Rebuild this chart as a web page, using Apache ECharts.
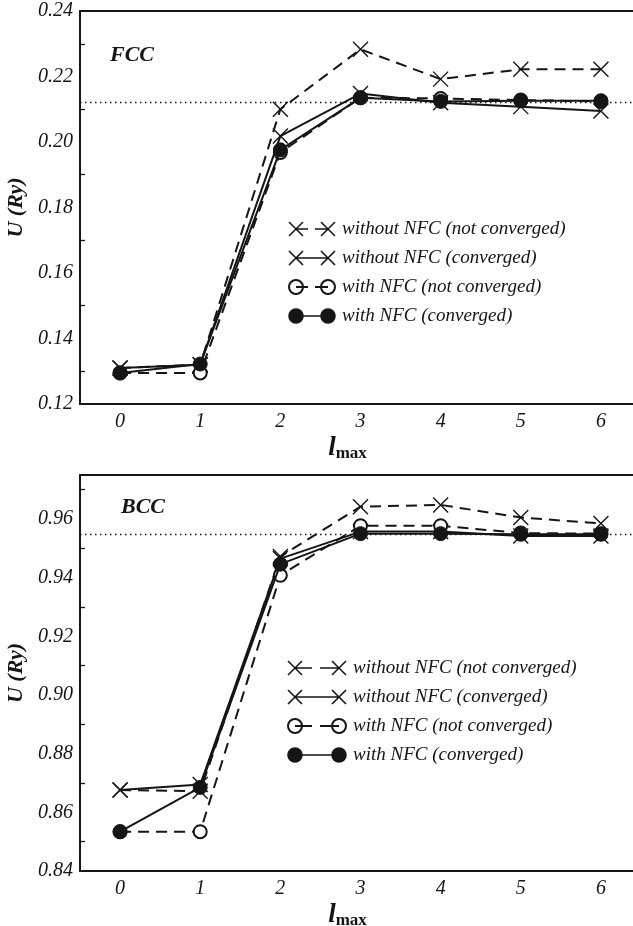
<!DOCTYPE html>
<html>
<head>
<meta charset="utf-8">
<script src="https://cdn.jsdelivr.net/npm/echarts@6/dist/echarts.min.js"></script>
<style>
html,body{margin:0;padding:0;background:#fff;}
#c{width:633px;height:926px;}
</style>
</head>
<body>
<div id="c"></div>
<script>
// ---------- data ----------
const lmaxCats = ['0', '1', '2', '3', '4', '5', '6'];
const seriesNames = [
  'without NFC (not converged)',
  'without NFC (converged)',
  'with NFC (not converged)',
  'with NFC (converged)'
];
// FCC panel
const fccNoNfcNotConv = [0.131, 0.132, 0.210, 0.2283, 0.2192, 0.2222, 0.2222];
const fccNoNfcConv    = [0.131, 0.132, 0.2018, 0.2148, 0.2120, 0.2108, 0.2095];
const fccNfcNotConv   = [0.1295, 0.1295, 0.1968, 0.2135, 0.2133, 0.2128, 0.2124];
const fccNfcConv      = [0.1295, 0.1322, 0.1976, 0.2135, 0.2124, 0.2126, 0.2126];
const fccReference = 0.2122;
const fccTicks = [0.12, 0.24, 0.02];
// BCC panel
const bccNoNfcNotConv = [0.8676, 0.8672, 0.9472, 0.9642, 0.9648, 0.9605, 0.9585];
const bccNoNfcConv    = [0.8676, 0.8695, 0.9465, 0.9557, 0.9557, 0.9542, 0.9542];
const bccNfcNotConv   = [0.8534, 0.8534, 0.9408, 0.9577, 0.9577, 0.9552, 0.9550];
const bccNfcConv      = [0.8534, 0.8685, 0.9446, 0.9550, 0.9550, 0.9548, 0.9548];
const bccReference = 0.9548;
const bccTicks = [0.84, 0.975, 0.02];

// ---------- styles ----------
const INK = '#151515';
const SERIF = 'Liberation Serif';
const X_PATH = 'path://M0,0L10,10M10,0L0,10';

const chart = echarts.init(document.getElementById('c'), null, {renderer: 'canvas'});

function xAxes(grid, nameGapV) {
  const base = {gridIndex: grid, type: 'category', data: lmaxCats, boundaryGap: true};
  const major = {inside: true, alignWithLabel: true, length: 10, interval: 0, lineStyle: {color: INK, width: 1.3}};
  const minor = {inside: true, alignWithLabel: false, length: 5, interval: 0, lineStyle: {color: INK, width: 1.3}};
  return [
    Object.assign({}, base, {
      position: 'bottom',
      axisLine: {show: true, lineStyle: {color: INK, width: 2}},
      axisTick: major,
      axisLabel: {show: true, interval: 0, margin: 8, color: INK, fontFamily: SERIF, fontStyle: 'italic', fontSize: 20},
      name: '{l|l}{s|max}',
      nameLocation: 'middle',
      nameGap: nameGapV,
      nameTextStyle: {
        padding: [0, 26, 0, 0],
        rich: {
          l: {fontFamily: SERIF, fontStyle: 'italic', fontWeight: 'bold', fontSize: 27, color: INK, verticalAlign: 'bottom', lineHeight: 26},
          s: {fontFamily: SERIF, fontWeight: 'bold', fontSize: 17, color: INK, verticalAlign: 'bottom', lineHeight: 20}
        }
      },
      splitLine: {show: false}
    }),
    Object.assign({}, base, {position: 'bottom', axisLine: {show: false}, axisTick: minor, axisLabel: {show: false}, splitLine: {show: false}}),
    Object.assign({}, base, {position: 'top', axisLine: {show: true, lineStyle: {color: INK, width: 2}}, axisTick: major, axisLabel: {show: false}, splitLine: {show: false}}),
    Object.assign({}, base, {position: 'top', axisLine: {show: false}, axisTick: minor, axisLabel: {show: false}, splitLine: {show: false}})
  ];
}

function yAxes(grid, ticks) {
  const base = {
    gridIndex: grid, type: 'value', min: ticks[0], max: ticks[1], interval: ticks[2],
    axisLine: {show: true, lineStyle: {color: INK, width: 2}},
    axisTick: {inside: true, length: 10, lineStyle: {color: INK, width: 1.3}},
    minorTick: {show: true, splitNumber: 2, length: 5, lineStyle: {color: INK, width: 1.3}},
    splitLine: {show: false}, minorSplitLine: {show: false}
  };
  return [
    Object.assign({}, base, {
      position: 'left',
      axisLabel: {
        show: true, margin: 7, color: INK, fontFamily: SERIF, fontStyle: 'italic', fontSize: 20,
        formatter: v => {
          const k = (v - ticks[0]) / ticks[2];
          return Math.abs(k - Math.round(k)) > 1e-6 ? '' : v.toFixed(2);
        }
      },
      name: 'U (Ry)',
      nameLocation: 'middle',
      nameRotate: 90,
      nameGap: 52,
      nameTextStyle: {fontFamily: SERIF, fontStyle: 'italic', fontWeight: 'bold', fontSize: 22, color: INK}
    }),
    Object.assign({}, base, {position: 'right', axisLabel: {show: false}})
  ];
}

function makeSeries(grid, data, kind, refValue) {
  const dashed = (kind === 0 || kind === 2);
  const s = {
    type: 'line',
    name: seriesNames[kind],
    xAxisIndex: grid * 4,
    yAxisIndex: grid * 2,
    data: data,
    symbolKeepAspect: true,
    showAllSymbol: true,
    lineStyle: {color: INK, width: 2, type: dashed ? [11, 7] : 'solid'},
    emphasis: {disabled: true},
    z: 2 + kind
  };
  if (kind === 0 || kind === 1) {
    s.symbol = X_PATH;
    s.symbolSize = 15;
    s.itemStyle = {color: INK, borderColor: INK, borderWidth: 1.4};
  } else if (kind === 2) {
    s.symbol = 'circle';
    s.symbolSize = 13;
    s.itemStyle = {color: '#fff', borderColor: INK, borderWidth: 2};
  } else {
    s.symbol = 'circle';
    s.symbolSize = 14;
    s.itemStyle = {color: INK, borderColor: INK, borderWidth: 1};
  }
  if (refValue !== undefined) {
    s.markLine = {
      silent: true, symbol: ['none', 'none'], label: {show: false}, animation: false,
      precision: 6,
      lineStyle: {color: INK, width: 1.3, type: [1.5, 3.5]},
      data: [{yAxis: refValue}]
    };
  }
  return s;
}

// legend icons (symbol / line / symbol)
function legendIcons(w) {
  const r = 7, c1 = 7, c2 = w - 7;
  const x1 = `M0,1L14,15M14,1L0,15`;
  const x2 = `M${w - 14},1L${w},15M${w},1L${w - 14},15`;
  const circ = c => `M${c - r},8A${r},${r} 0 1,1 ${c + r},8A${r},${r} 0 1,1 ${c - r},8Z`;
  const gapA = Math.round(w * 0.42), gapB = Math.round(w * 0.56);
  const dash = `M${c1},8L${gapA},8M${gapB},8L${c2},8`;
  const solid = `M${c1},8L${c2},8`;
  return [
    'path://' + x1 + x2 + dash,
    'path://' + x1 + x2 + solid,
    'path://' + dash + circ(c1) + circ(c2),
    'path://' + solid + circ(c1) + circ(c2)
  ];
}

function legend(topPx, leftPx, w) {
  const icons = legendIcons(w);
  const styles = [
    {color: INK, borderColor: INK, borderWidth: 1.5},
    {color: INK, borderColor: INK, borderWidth: 1.6},
    {color: '#fff', borderColor: INK, borderWidth: 2},
    {color: INK, borderColor: INK, borderWidth: 1.6}
  ];
  return {
    orient: 'vertical', left: leftPx, top: topPx,
    itemWidth: w + 4, itemHeight: 14, itemGap: 9,
    selectedMode: false,
    symbolKeepAspect: true,
    textStyle: {fontFamily: SERIF, fontStyle: 'italic', fontSize: 19, color: INK, lineHeight: 20},
    data: seriesNames.map((n, i) => ({name: n, icon: icons[i], itemStyle: styles[i]}))
  };
}

const option = {
  animation: false,
  backgroundColor: '#fff',
  title: [
    {text: 'FCC', left: 105, top: 39, textStyle: {fontFamily: SERIF, fontStyle: 'italic', fontWeight: 'bold', fontSize: 22, color: INK}},
    {text: 'BCC', left: 116, top: 491, textStyle: {fontFamily: SERIF, fontStyle: 'italic', fontWeight: 'bold', fontSize: 22, color: INK}}
  ],
  grid: [
    {left: 80, top: 11, width: 561, height: 393, containLabel: false, outerBoundsMode: 'none'},
    {left: 80, top: 475, width: 561, height: 396, containLabel: false, outerBoundsMode: 'none'}
  ],
  legend: [legend(214, 283, 46), legend(653, 282, 58)],
  xAxis: [].concat(xAxes(0, 32), xAxes(1, 32)),
  yAxis: [].concat(yAxes(0, fccTicks), yAxes(1, bccTicks)),
  series: [
    makeSeries(0, fccNoNfcNotConv, 0, fccReference),
    makeSeries(0, fccNfcNotConv, 2),
    makeSeries(0, fccNoNfcConv, 1),
    makeSeries(0, fccNfcConv, 3),
    makeSeries(1, bccNoNfcNotConv, 0, bccReference),
    makeSeries(1, bccNfcNotConv, 2),
    makeSeries(1, bccNoNfcConv, 1),
    makeSeries(1, bccNfcConv, 3)
  ]
};
chart.setOption(option);
</script>
</body>
</html>
